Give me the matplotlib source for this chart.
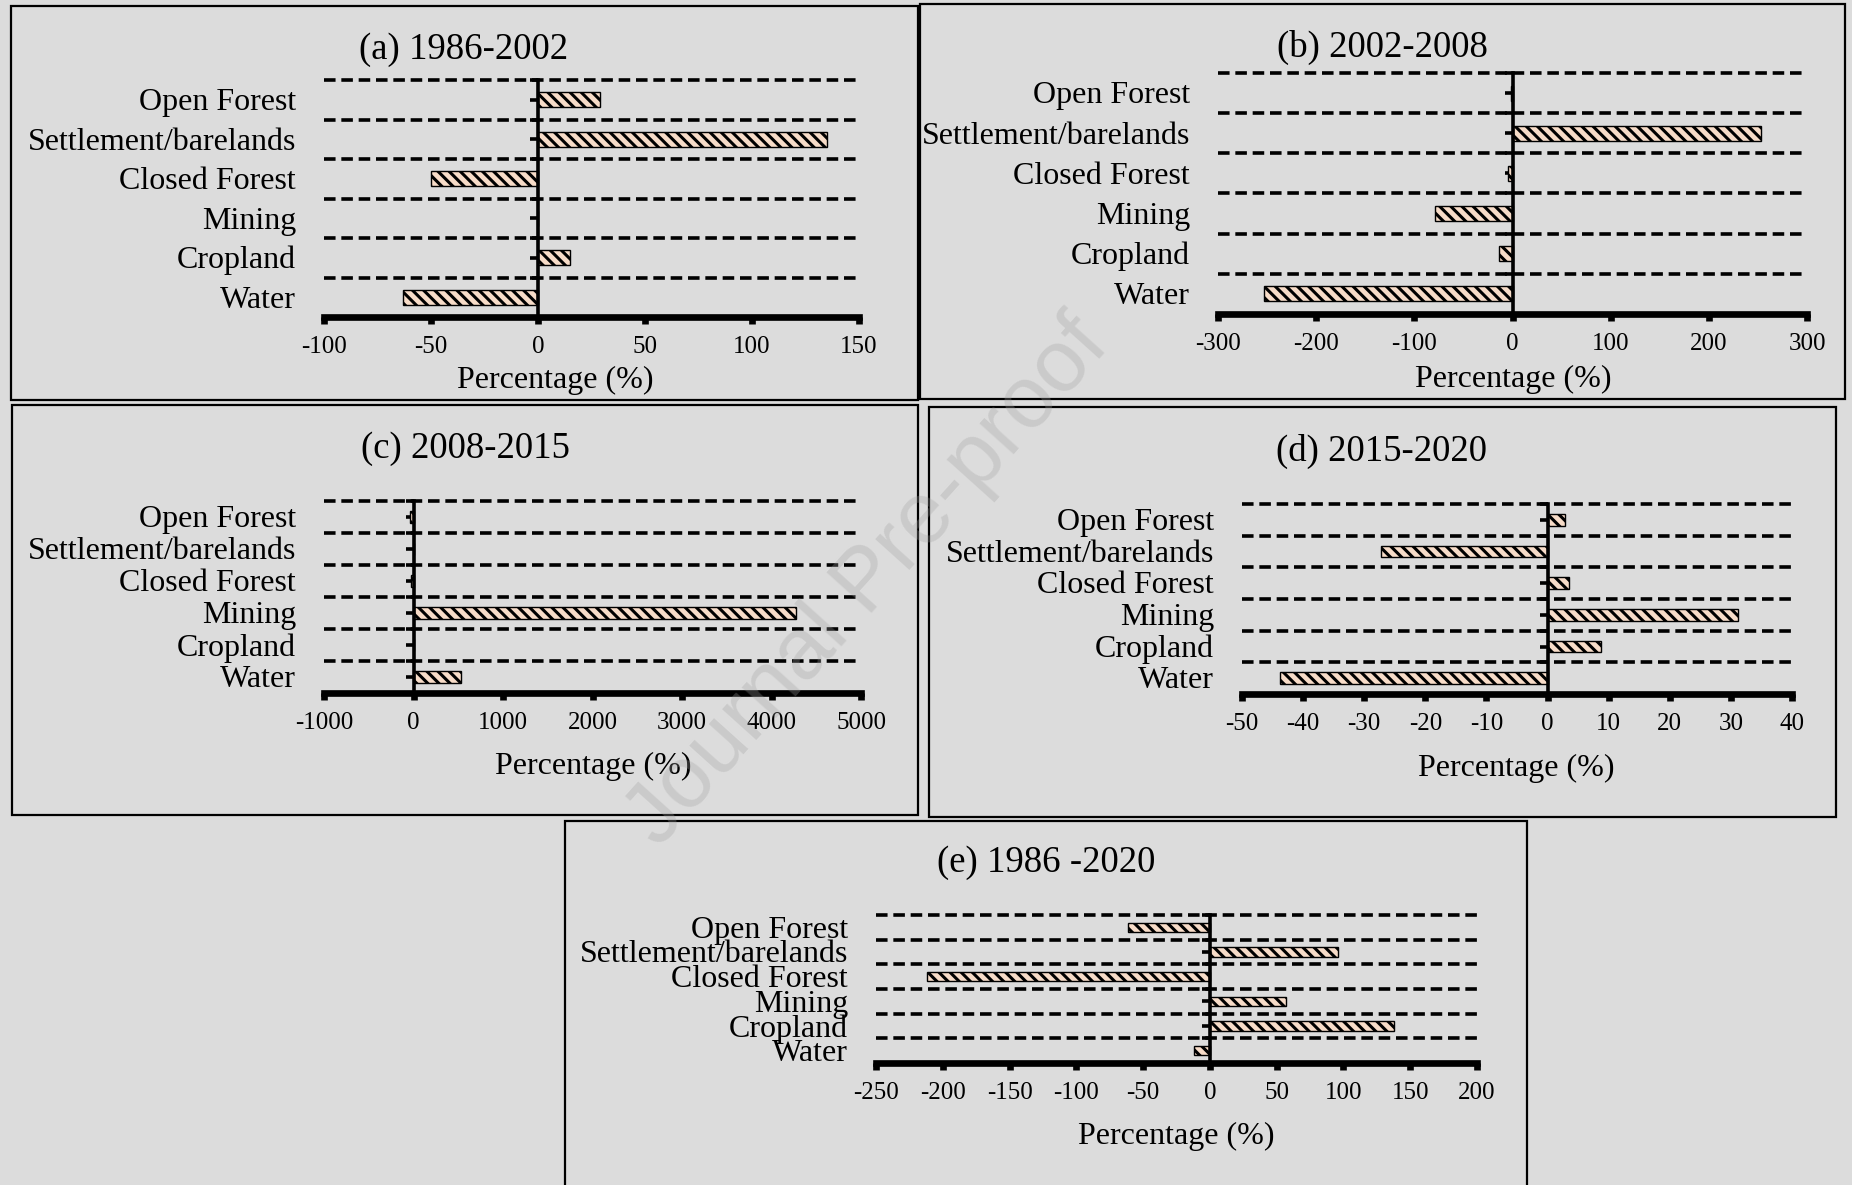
import numpy as np
import matplotlib.pyplot as plt
from matplotlib.patches import Rectangle

plt.rcParams['font.family'] = ['Liberation Serif', 'DejaVu Serif']
plt.rcParams['axes.unicode_minus'] = False
plt.rcParams['hatch.linewidth'] = 2.2

# ── Data (percentage change per land-cover class) ─────────────────────────────
categories = ['Open Forest', 'Settlement/barelands', 'Closed Forest',
              'Mining', 'Cropland', 'Water']

change_1986_2002 = [29, 135, -50, 0, 15, -63]
change_2002_2008 = [-2, 253, -5, -79, -14, -253]
change_2008_2015 = [-40, 5, -30, 4270, 5, 530]
change_2015_2020 = [2.8, -27.2, 3.5, 31.1, 8.7, -43.8]
change_1986_2020 = [-61, 96, -212, 57, 138, -12]

titles = ['(a) 1986-2002', '(b) 2002-2008', '(c) 2008-2015',
          '(d) 2015-2020', '(e) 1986 -2020']
x_ticks = [
    [-100, -50, 0, 50, 100, 150],
    [-300, -200, -100, 0, 100, 200, 300],
    [-1000, 0, 1000, 2000, 3000, 4000, 5000],
    [-50, -40, -30, -20, -10, 0, 10, 20, 30, 40],
    [-250, -200, -150, -100, -50, 0, 50, 100, 150, 200],
]
x_label = 'Percentage (%)'

# ── Layout (pixels of a 1852 x 1185 canvas) ──────────────────────────────────
W, H = 1852, 1185
FACE = '#f7dcc8'
BG = '#dcdcdc'

# axes box: x0, x1, y_top, y_bottom
axes_px = [(324, 859, 80, 317), (1218, 1807, 73, 314), (324, 861, 501, 693),
           (1242, 1792, 504, 694), (876, 1477, 915, 1063)]
frames_px = [(11, 918, 6, 400), (920, 1845, 4, 399), (12, 918, 405, 815),
             (929, 1836, 407, 817), (565, 1527, 821, 1187)]
title_px = [(464, 50), (1382, 47), (465, 449), (1382, 451), (1046, 863)]
xlabel_px = [(555, 380), (1513, 379), (593, 766), (1516, 768), (1176, 1136)]

fig = plt.figure(figsize=(W / 100, H / 100), dpi=100, facecolor=BG)

series = [change_1986_2002, change_2002_2008, change_2008_2015,
          change_2015_2020, change_1986_2020]

for i, vals in enumerate(series):
    x0, x1, yt, yb = axes_px[i]
    ax = fig.add_axes([x0 / W, 1 - yb / H, (x1 - x0) / W, (yb - yt) / H])
    ax.patch.set_visible(False)

    ypos = np.arange(len(categories))[::-1]
    ax.barh(ypos, vals, height=0.37, color=FACE, edgecolor='black',
            linewidth=1.0, hatch='\\\\\\', zorder=2)

    # dashed separators between classes (top one sits on the axes edge)
    for g in np.arange(0.5, len(categories), 1.0):
        ax.axhline(g, color='black', lw=2.6, ls=(0, (3.2, 1.6)), zorder=1,
                   clip_on=False)

    xt = x_ticks[i]
    ax.set_xlim(xt[0], xt[-1])
    ax.set_ylim(-0.5, len(categories) - 0.5)

    ax.spines['top'].set_visible(False)
    ax.spines['right'].set_visible(False)
    ax.spines['left'].set_position(('data', 0))
    ax.spines['left'].set_linewidth(2.6)
    ax.spines['left'].set_zorder(3)
    ax.spines['bottom'].set_linewidth(4.8)
    ax.spines['bottom'].set_capstyle('projecting')

    ax.set_yticks(np.arange(0, len(categories), 0.5))
    ax.set_yticklabels([])
    ax.tick_params(axis='y', direction='out', length=5.5, width=2.6)
    ax.set_xticks(xt)
    ax.set_xticklabels([str(t) for t in xt])
    ax.tick_params(axis='x', direction='out', length=5, width=4.8,
                   pad=9, labelsize=18)

    for yy, name in zip(ypos, categories):
        ax.annotate(name, xy=(0, yy), xycoords=('axes fraction', 'data'),
                    xytext=(-20, -2), textcoords='offset points',
                    ha='right', va='center', fontsize=23)

    tx, ty = title_px[i]
    fig.text(tx / W, 1 - ty / H, titles[i], ha='center', va='center',
             fontsize=26.5)
    lx, ly = xlabel_px[i]
    fig.text(lx / W, 1 - ly / H, x_label, ha='center', va='center',
             fontsize=23)

    fx0, fx1, fyt, fyb = frames_px[i]
    fig.patches.append(Rectangle((fx0 / W, 1 - fyb / H), (fx1 - fx0) / W,
                                 (fyb - fyt) / H, transform=fig.transFigure,
                                 fill=False, edgecolor='black', lw=1.6))

# watermark
fig.text(868 / W, 1 - 583 / H, 'Journal Pre-proof', rotation=48,
         ha='center', va='center', fontsize=63, color='#a0a0a0', alpha=0.3,
         family=['Liberation Sans', 'DejaVu Sans'])

fig.savefig('out.png', dpi=100, facecolor=BG)
